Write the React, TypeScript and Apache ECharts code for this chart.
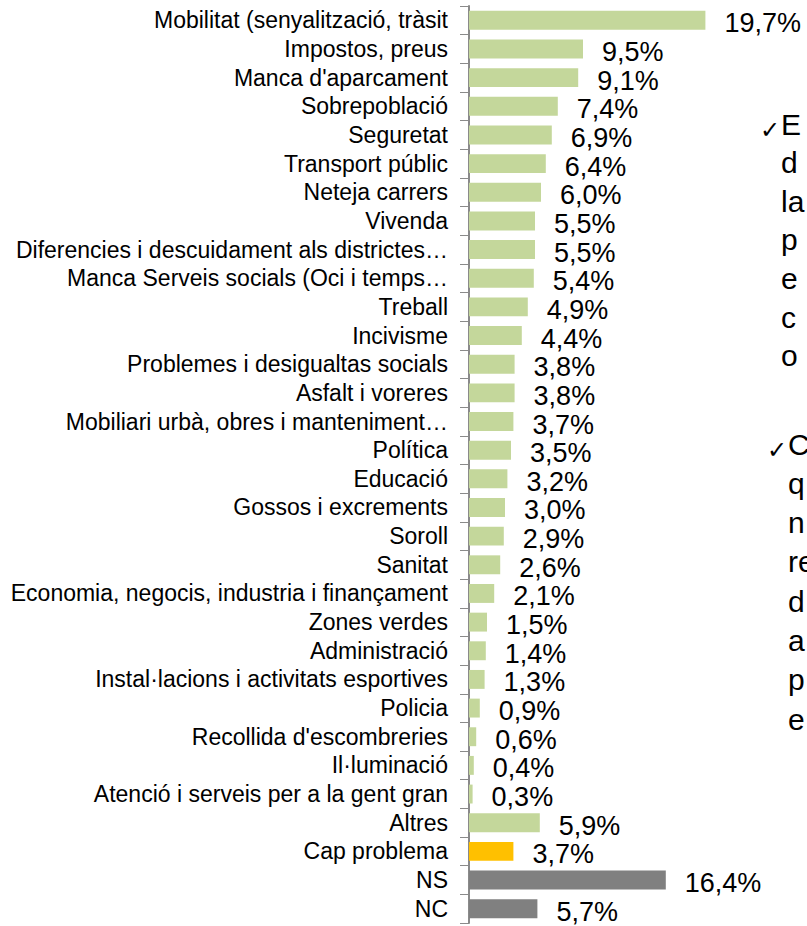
import React, { useEffect, useRef } from "react";
import * as echarts from "echarts";

const categories = [
  "Mobilitat (senyalització, tràsit",
  "Impostos, preus",
  "Manca d'aparcament",
  "Sobrepoblació",
  "Seguretat",
  "Transport públic",
  "Neteja carrers",
  "Vivenda",
  "Diferencies i descuidament als districtes…",
  "Manca Serveis socials (Oci i temps…",
  "Treball",
  "Incivisme",
  "Problemes i desigualtas socials",
  "Asfalt i voreres",
  "Mobiliari urbà, obres i manteniment…",
  "Política",
  "Educació",
  "Gossos i excrements",
  "Soroll",
  "Sanitat",
  "Economia, negocis, industria i finançament",
  "Zones verdes",
  "Administració",
  "Instal·lacions i activitats esportives",
  "Policia",
  "Recollida d'escombreries",
  "Il·luminació",
  "Atenció i serveis per a la gent gran",
  "Altres",
  "Cap problema",
  "NS",
  "NC",
];

const values = [
  19.7, 9.5, 9.1, 7.4, 6.9, 6.4, 6.0, 5.5, 5.5, 5.4, 4.9, 4.4, 3.8, 3.8, 3.7, 3.5,
  3.2, 3.0, 2.9, 2.6, 2.1, 1.5, 1.4, 1.3, 0.9, 0.6, 0.4, 0.3, 5.9, 3.7, 16.4, 5.7,
];

// Partial side-text fragments visible at the right edge of the slide
const sideBlock1 = ["E", "d", "la", "p", "e", "c", "o"];
const sideBlock2 = ["C", "q", "n", "re", "d", "a", "p", "e"];

const GREEN = "#C4D79B";
const specialColors: Record<string, string> = {
  "Cap problema": "#FFC000",
  NS: "#808080",
  NC: "#808080",
};

const FONT = "'Liberation Sans', Arial, 'DejaVu Sans', sans-serif";

export default function App() {
  const ref = useRef<HTMLDivElement>(null);

  useEffect(() => {
    document.body.style.margin = "0";
    const chart = echarts.init(ref.current!, null, { renderer: "svg" });

    const graphics: any[] = [];
    const addBlock = (lines: string[], x: number, y0: number, step: number) => {
      lines.forEach((t, i) => {
        graphics.push({
          type: "text",
          x,
          y: y0 + step * i,
          style: {
            text: t,
            fontFamily: FONT,
            fontSize: 30,
            fill: "#000",
            textAlign: "left",
            textVerticalAlign: "bottom",
          },
        });
      });
      graphics.push({
        type: "text",
        x: x - 1,
        y: y0 - 9,
        style: {
          text: "✓",
          fontFamily: "'DejaVu Sans', sans-serif",
          fontSize: 24,
          fill: "#000",
          textAlign: "right",
          textVerticalAlign: "middle",
        },
      });
    };
    addBlock(sideBlock1, 781, 139, 38.6);
    addBlock(sideBlock2, 788, 459, 39.3);

    chart.setOption({
      animation: false,
      grid: { left: 469, top: 6, width: 336, height: 917, containLabel: false },
      xAxis: {
        type: "value",
        min: 0,
        max: 28,
        show: false,
      },
      yAxis: {
        type: "category",
        inverse: true,
        data: categories,
        axisLine: { show: true, lineStyle: { color: "#8a8a8a", width: 2 } },
        axisTick: { show: true, length: 9, lineStyle: { color: "#8a8a8a", width: 1 } },
        axisLabel: {
          margin: 21,
          color: "#000",
          fontFamily: FONT,
          fontSize: 23,
          interval: 0,
        },
      },
      series: [
        {
          type: "bar",
          barCategoryGap: "34%",
          data: values.map((v, i) => ({
            value: v,
            itemStyle: { color: specialColors[categories[i]] || GREEN },
          })),
          label: {
            show: true,
            position: "right",
            distance: 19,
            offset: [0, 3],
            color: "#000",
            fontFamily: FONT,
            fontSize: 27,
            formatter: (p: any) => p.value.toFixed(1).replace(".", ",") + "%",
          },
        },
      ],
      graphic: graphics,
    });

    return () => chart.dispose();
  }, []);

  return (
    <div
      ref={ref}
      style={{ position: "absolute", left: 0, top: 0, width: 807, height: 926 }}
    />
  );
}
